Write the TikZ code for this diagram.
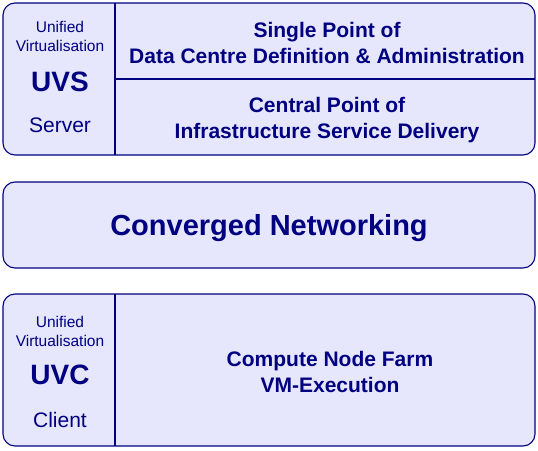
\documentclass[tikz,border=0pt]{standalone}
\usepackage{fontspec}
\setmainfont{Liberation Sans}
\definecolor{navy}{RGB}{0,0,128}
\definecolor{lav}{RGB}{230,230,252}
\begin{document}
\begin{tikzpicture}[x=1pt,y=-1pt,
  panel/.style={draw=navy, fill=lav, line width=1.1pt, rounded corners=12pt},
  divider/.style={draw=navy, line width=1.1pt},
  small/.style={text=navy, font=\fontsize{15.5}{18}\selectfont, anchor=base, inner sep=0pt},
  big/.style={text=navy, font=\bfseries\fontsize{28}{32}\selectfont, anchor=base, inner sep=0pt},
  role/.style={text=navy, font=\fontsize{21}{24}\selectfont, anchor=base, inner sep=0pt},
  head/.style={text=navy, font=\bfseries\fontsize{21}{26}\selectfont, anchor=base, inner sep=0pt}]
\useasboundingbox (0,0) rectangle (538,450);
% top panel
\path[panel] (3,3) rectangle (535,155);
\coordinate (tdivtop) at (115,3);
\coordinate (tdivbot) at (115,155);
\coordinate (thl) at (115,79);
\coordinate (thr) at (535,79);
\draw[divider] (tdivtop) -- (tdivbot);
\draw[divider] (thl) -- (thr);
\node[small] (u1) at (60,32) {Unified};
\node[small] (v1) at (60,51) {Virtualisation};
\node[big] (uvs) at (60,91) {UVS};
\node[role] (srv) at (60,132) {Server};
\node[head] (sp1) at (327,37) {Single Point of};
\node[head] (sp2) at (327,63) {Data Centre Definition \& Administration};
\node[head] (cp1) at (327,112) {Central Point of};
\node[head] (cp2) at (327,138) {Infrastructure Service Delivery};
% middle panel
\path[panel] (3,182) rectangle (535,268);
\node[text=navy, font=\bfseries\fontsize{29}{34}\selectfont, anchor=base, inner sep=0pt] (cn) at (269,235) {Converged Networking};
% bottom panel
\path[panel] (3,294) rectangle (535,446);
\coordinate (bdivtop) at (115,294);
\coordinate (bdivbot) at (115,446);
\draw[divider] (bdivtop) -- (bdivbot);
\node[small] (u2) at (60,327) {Unified};
\node[small] (v2) at (60,346) {Virtualisation};
\node[big] (uvc) at (60,384) {UVC};
\node[role] (cli) at (60,427) {Client};
\node[head] (cf1) at (330,366) {Compute Node Farm};
\node[head] (cf2) at (330,392) {VM-Execution};
\end{tikzpicture}
\end{document}
